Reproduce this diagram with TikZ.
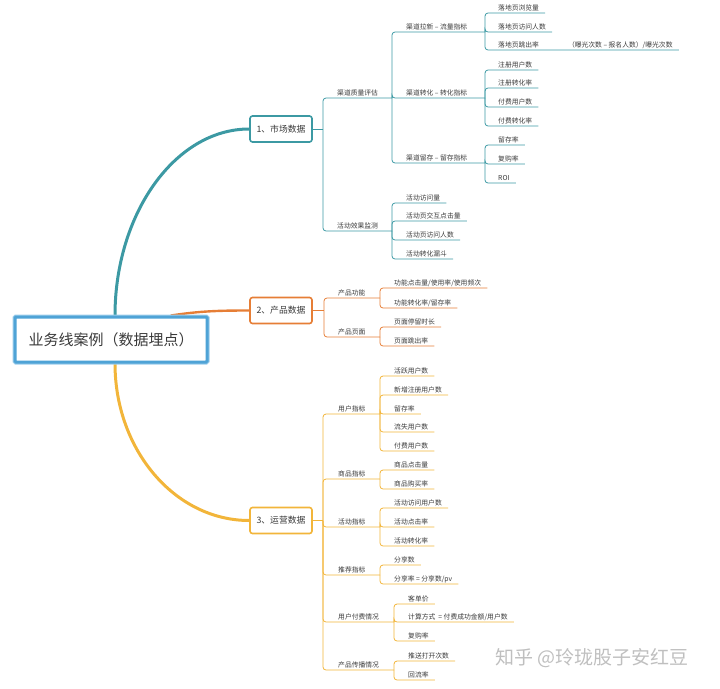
\documentclass[tikz,border=0pt]{standalone}
\usepackage{fontspec}
\newfontfamily\cjk{Noto Sans CJK SC}
\usetikzlibrary{calc, positioning}
\usetikzlibrary{backgrounds}

\definecolor{ink}{HTML}{3A3A3A}
\definecolor{mktteal}{HTML}{3C99A3}
\definecolor{prdorange}{HTML}{E67E36}
\definecolor{opsgold}{HTML}{F2B53A}
\definecolor{rootblue}{HTML}{4FA3D6}
\definecolor{rootlight}{HTML}{9CCDEB}

\tikzset{
  rootbox/.style={fill=white, draw=rootblue, line width=3pt, rounded corners=1pt,
    minimum width=192pt, minimum height=45pt, inner sep=0pt, text=ink,
    font=\cjk\fontsize{15}{18}\selectfont, preaction={draw=rootlight, line width=5pt}},
  box/.style={draw, fill=white, rounded corners=2.5pt, line width=1.6pt,
    minimum width=62pt, minimum height=26pt, inner sep=0pt, text=ink,
    font=\cjk\fontsize{8.8}{10}\selectfont},
  leaf/.style={anchor=south west, xshift=-6pt, inner xsep=6pt, inner ysep=1.5pt,
    text height=5.6pt, text depth=1pt, text=ink, font=\cjk\fontsize{6.8}{8}\selectfont},
  twig/.style={line width=0.8pt, rounded corners=3pt},
  limb/.style={line width=3pt, line cap=round},
}

\begin{document}
\begin{tikzpicture}[x=1pt, y=-1pt]
\useasboundingbox (0,0) rectangle (720,688);

\node[rootbox] (root) at (111,339.5) {业务线案例（数据埋点）};
\node[box, draw=mktteal] (mkt) at (281,129) {1、市场数据};
\node[box, draw=prdorange] (prd) at (281,310.5) {2、产品数据};
\node[box, draw=opsgold] (ops) at (281,520.5) {3、运营数据};
\coordinate (prdroot) at ([xshift=60pt]root.north);

\begin{scope}[on background layer]
  \draw[limb, mktteal] ([xshift=4pt]root.north) .. controls (115,214) and (175,129) .. (mkt.west);
  \draw[limb, prdorange, line width=2.4pt] (prdroot) .. controls (200,311) and (220,310.5) .. (prd.west);
  \draw[limb, opsgold] ([xshift=4pt]root.south) .. controls (115,450) and (175,520.5) .. (ops.west);
\end{scope}

% 1 market
\coordinate (mkt-j) at (323,129);
\draw[twig, mktteal] (mkt) -- (mkt-j);
\node[leaf] (mq) at (337,98) {渠道质量评估};
\node[leaf] (mh) at (337,231) {活动效果监测};
\coordinate (mq-j) at (392,98);
\coordinate (mh-j) at (392,231);
\draw[twig, mktteal] (mkt-j) |- (mq-j);
\draw[twig, mktteal] (mkt-j) |- (mh-j);
\foreach \t/\y [count=\i] in {渠道拉新 – 流量指标/32, 渠道转化 – 转化指标/98, 渠道留存 – 留存指标/163}{
  \node[leaf] (mq\i) at (406,\y) {\t};
  \coordinate (mq\i-j) at (485,\y);
  \draw[twig, mktteal] (mq-j) |- (mq\i-j);
}
\foreach \t/\y [count=\i] in {落地页浏览量/13, 落地页访问人数/32,
    {落地页跳出率\hspace{29pt}（曝光次数 – 报名人数）/曝光次数}/50}{
  \node[leaf] (mq1-\i) at (498,\y) {\t};
  \draw[twig, mktteal] (mq1-j) |- (mq1-\i.south east);
}
\foreach \t/\y [count=\i] in {注册用户数/70, 注册转化率/88, 付费用户数/107, 付费转化率/126}{
  \node[leaf] (mq2-\i) at (498,\y) {\t};
  \draw[twig, mktteal] (mq2-j) |- (mq2-\i.south east);
}
\foreach \t/\y [count=\i] in {留存率/145, 复购率/164, ROI/183}{
  \node[leaf] (mq3-\i) at (498,\y) {\t};
  \draw[twig, mktteal] (mq3-j) |- (mq3-\i.south east);
}
\foreach \t/\y [count=\i] in {活动访问量/203, 活动页交互点击量/221, 活动页访问人数/240, 活动转化漏斗/259}{
  \node[leaf] (mh-\i) at (406,\y) {\t};
  \draw[twig, mktteal] (mh-j) |- (mh-\i.south east);
}

% 2 product
\coordinate (prd-j) at (324,310.5);
\draw[twig, prdorange] (prd) -- (prd-j);
\foreach \t/\y [count=\i] in {产品功能/298, 产品页面/337}{
  \node[leaf] (pp\i) at (338,\y) {\t};
  \coordinate (pp\i-j) at (380,\y);
  \draw[twig, prdorange] (prd-j) |- (pp\i-j);
}
\foreach \t/\y [count=\i] in {{功能点击量/使用率/使用频次}/288, {功能转化率/留存率}/308}{
  \node[leaf] (pp1-\i) at (394,\y) {\t};
  \draw[twig, prdorange] (pp1-j) |- (pp1-\i.south east);
}
\foreach \t/\y [count=\i] in {页面停留时长/327, 页面跳出率/346}{
  \node[leaf] (pp2-\i) at (394,\y) {\t};
  \draw[twig, prdorange] (pp2-j) |- (pp2-\i.south east);
}

% 3 operations
\coordinate (ops-j) at (323,520.5);
\draw[twig, opsgold] (ops) -- (ops-j);
\foreach \t/\y/\jx [count=\i] in {用户指标/414/380, 商品指标/479/380, 活动指标/527/380,
    推荐指标/575/380, 用户付费情况/622/394, 产品传播情况/670/394}{
  \node[leaf] (op\i) at (338,\y) {\t};
  \coordinate (op\i-j) at (\jx,\y);
  \draw[twig, opsgold] (ops-j) |- (op\i-j);
}
\foreach \t/\y [count=\i] in {活跃用户数/376, 新增注册用户数/395, 留存率/414, 流失用户数/432, 付费用户数/451}{
  \node[leaf] (op1-\i) at (394,\y) {\t};
  \draw[twig, opsgold] (op1-j) |- (op1-\i.south east);
}
\foreach \t/\y [count=\i] in {商品点击量/470, 商品购买率/489}{
  \node[leaf] (op2-\i) at (394,\y) {\t};
  \draw[twig, opsgold] (op2-j) |- (op2-\i.south east);
}
\foreach \t/\y [count=\i] in {活动访问用户数/508, 活动点击率/527, 活动转化率/546}{
  \node[leaf] (op3-\i) at (394,\y) {\t};
  \draw[twig, opsgold] (op3-j) |- (op3-\i.south east);
}
\foreach \t/\y [count=\i] in {分享数/565, {分享率 = 分享数/pv}/584}{
  \node[leaf] (op4-\i) at (394,\y) {\t};
  \draw[twig, opsgold] (op4-j) |- (op4-\i.south east);
}
\foreach \t/\y [count=\i] in {客单价/604, {计算方式\ \ = 付费成功金额/用户数}/622, 复购率/641}{
  \node[leaf] (op5-\i) at (408,\y) {\t};
  \draw[twig, opsgold] (op5-j) |- (op5-\i.south east);
}
\foreach \t/\y [count=\i] in {推送打开次数/661, 回流率/680}{
  \node[leaf] (op6-\i) at (408,\y) {\t};
  \draw[twig, opsgold] (op6-j) |- (op6-\i.south east);
}

\node[font=\cjk\fontsize{19}{22}\selectfont, text=black!25] (mark) at (592,658) {知乎 @玲珑股子安红豆};
\end{tikzpicture}
\end{document}
